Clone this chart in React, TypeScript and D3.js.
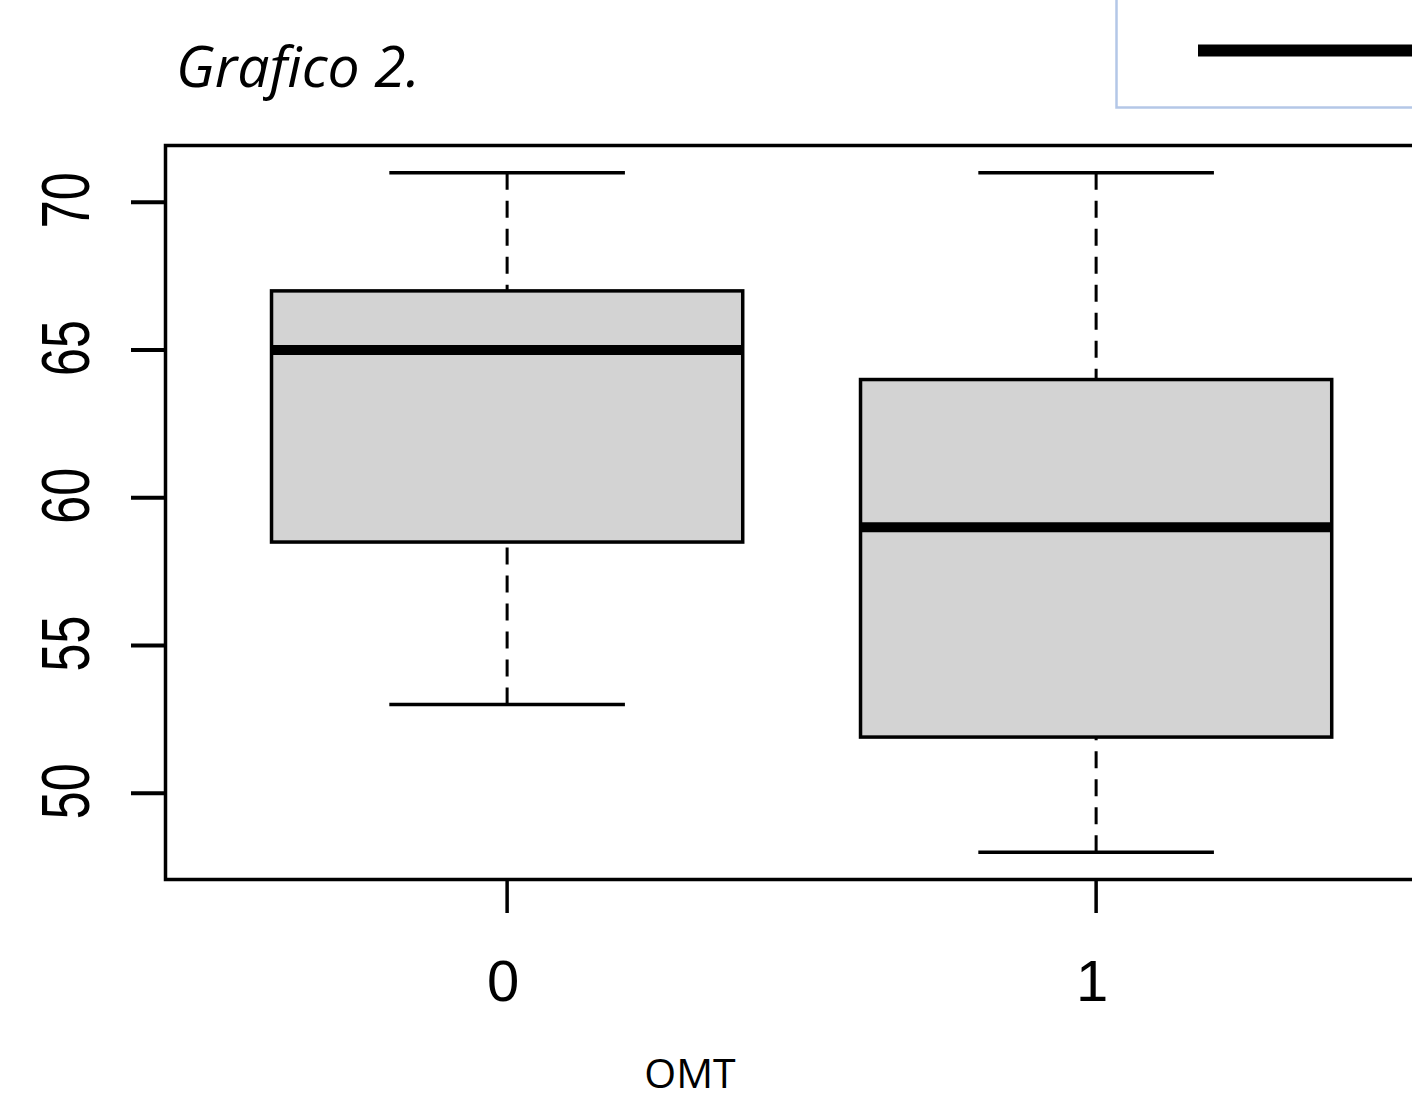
import React from "react";
import * as d3 from "d3";

const groups = ["0", "1"];
const whiskerLow = [53, 48];
const q1 = [58.5, 51.9];
const median = [65, 59];
const q3 = [67, 64];
const whiskerHigh = [71, 71];
const yTicks = [50, 55, 60, 65, 70];
const title = "Grafico 2.";
const xTitle = "OMT";

export default function App() {
  const lo = d3.min(whiskerLow)!;
  const hi = d3.max(whiskerHigh)!;
  const pad = (hi - lo) * 0.04;
  const y = d3.scaleLinear().domain([lo - pad, hi + pad]).range([879.5, 145.5]);
  const x = d3.scaleLinear().domain([0.42, 2.58]).range([165.5, 165.5 + 2.16 * 589]);
  const [y0, y1] = y.domain();
  const boxHalf = 0.4;
  const capHalf = 0.2;

  return (
    <svg
      width={1412}
      height={1099}
      style={{ position: "absolute", left: 0, top: 0, background: "#fff" }}
    >
      <rect x={0} y={0} width={1412} height={1099} fill="#fff" />
      {/* title */}
      <text
        x={176}
        y={87}
        fontFamily="'Open Sans', sans-serif"
        fontStyle="italic"
        fontSize={57}
        fill="#000"
      >
        {title}
      </text>
      {/* legend-like box at top right */}
      <rect x={1116.5} y={-10} width={400} height={117.5} fill="#fff" stroke="#b4c7e7" strokeWidth={2.5} />
      <line x1={1198} x2={1420} y1={50.5} y2={50.5} stroke="#000" strokeWidth={12} />

      {/* boxes */}
      {groups.map((g, i) => {
        const cx = x(i + 1);
        return (
          <g key={g}>
            <line x1={cx} x2={cx} y1={y(whiskerHigh[i])} y2={y(q3[i])} stroke="#000" strokeWidth={3} strokeDasharray="17,11" />
            <line x1={cx} x2={cx} y1={y(whiskerLow[i])} y2={y(q1[i])} stroke="#000" strokeWidth={3} strokeDasharray="17,11" />
            <line x1={x(i + 1 - capHalf)} x2={x(i + 1 + capHalf)} y1={y(whiskerHigh[i])} y2={y(whiskerHigh[i])} stroke="#000" strokeWidth={3.5} />
            <line x1={x(i + 1 - capHalf)} x2={x(i + 1 + capHalf)} y1={y(whiskerLow[i])} y2={y(whiskerLow[i])} stroke="#000" strokeWidth={3.5} />
            <rect
              x={x(i + 1 - boxHalf)}
              y={y(q3[i])}
              width={x(i + 1 + boxHalf) - x(i + 1 - boxHalf)}
              height={y(q1[i]) - y(q3[i])}
              fill="#d3d3d3"
              stroke="#000"
              strokeWidth={3.5}
            />
            <line x1={x(i + 1 - boxHalf)} x2={x(i + 1 + boxHalf)} y1={y(median[i])} y2={y(median[i])} stroke="#000" strokeWidth={10} />
          </g>
        );
      })}

      {/* frame (right side runs off the image) */}
      <rect x={x(0.42)} y={y(y1)} width={x(2.58) - x(0.42)} height={y(y0) - y(y1)} fill="none" stroke="#000" strokeWidth={3.5} />

      {/* y axis */}
      {yTicks.map((t) => (
        <g key={t}>
          <line x1={131} x2={x(0.42)} y1={y(t)} y2={y(t)} stroke="#000" strokeWidth={4} />
          <text
            transform={`translate(89,${y(t) - 2}) rotate(-90) scale(0.95,1.3)`}
            textAnchor="middle"
            fontFamily="'Liberation Sans', Arial, sans-serif"
            fontSize={53}
            fill="#000"
          >
            {t}
          </text>
        </g>
      ))}

      {/* x axis */}
      {groups.map((g, i) => (
        <g key={g}>
          <line x1={x(i + 1)} x2={x(i + 1)} y1={y(y0)} y2={913} stroke="#000" strokeWidth={3.5} />
          <text
            x={x(i + 1) - 4}
            y={1001}
            textAnchor="middle"
            fontFamily="'Liberation Sans', Arial, sans-serif"
            fontSize={58}
            fill="#000"
          >
            {g}
          </text>
        </g>
      ))}
      <text
        x={690}
        y={1088}
        textAnchor="middle"
        fontFamily="'Open Sans', sans-serif"
        fontSize={41}
        fill="#000"
      >
        {xTitle}
      </text>
    </svg>
  );
}
